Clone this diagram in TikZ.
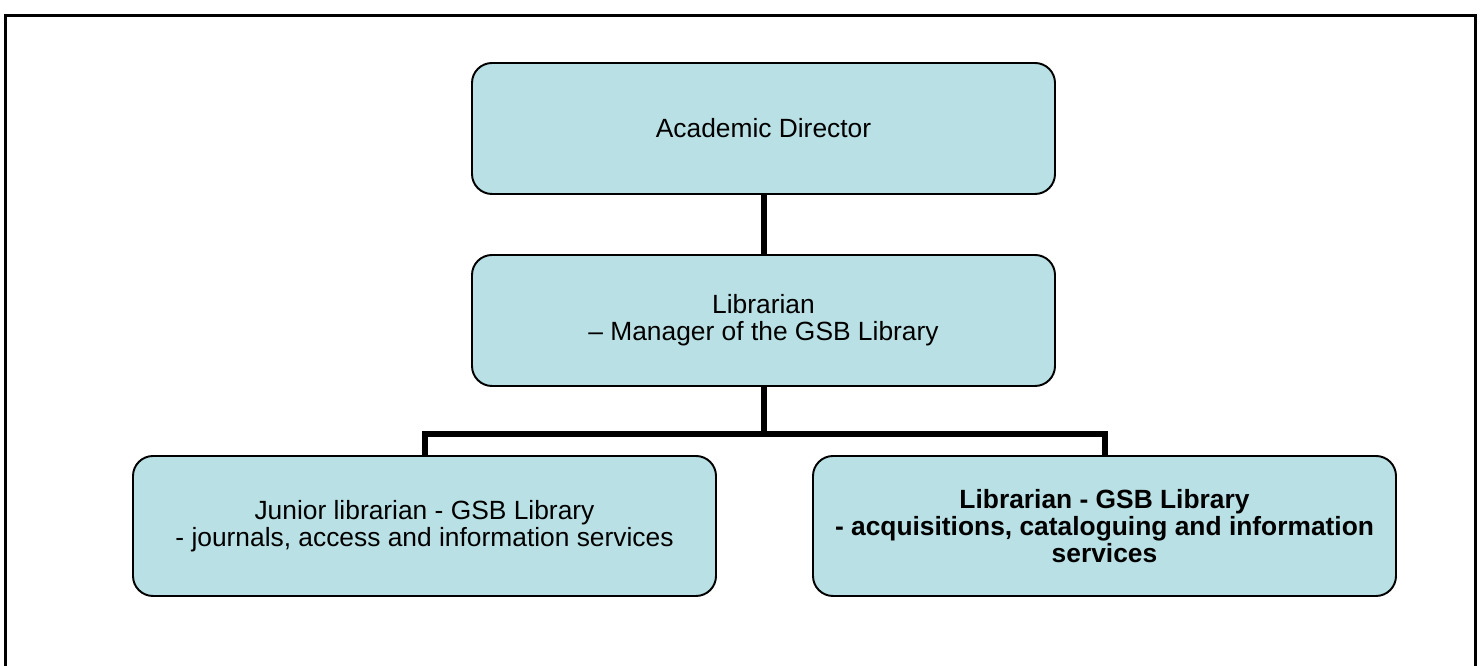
\documentclass[tikz,border=0pt]{standalone}
\usepackage{fontspec}
\setmainfont{Liberation Sans}
\definecolor{rolefill}{RGB}{185,224,228}
\begin{document}
\begin{tikzpicture}[
    every node/.append style={font=\fontsize{15}{15.5}\selectfont},
    role/.style={rectangle, rounded corners=0.4cm, draw=black, line width=1.1pt, fill=rolefill, minimum width=11.66cm, minimum height=#1, align=center, inner sep=0pt},
    link/.style={draw=black, line width=0.12cm}
]
    \useasboundingbox (0,0) rectangle (29.66,-13.32);

    % Marco
    \draw[line width=0.06cm] (0.12,-13.5) -- (0.12,-0.32) -- (29.5,-0.32) -- (29.5,-13.5);

    % Direccion
    \node[role=2.62cm] (director) at (15.27, -2.57) {Academic Director};
    \node[role=2.62cm] (manager) at (15.27, -6.41) {Librarian\\– Manager of the GSB Library};

    % Bibliotecarios
    \node[role=2.8cm] (junior) at (8.49, -10.52) {Junior librarian - GSB Library\\- journals, access and information services};
    \node[role=2.8cm, font=\fontsize{15}{15.5}\selectfont\bfseries] (senior) at (22.09, -10.52) {Librarian - GSB Library\\- acquisitions, cataloguing and information\\services};

    % Conexiones
    \coordinate (bar) at (15.27, -8.68);
    \draw[link] (director.south) -- (manager.north);
    \draw[link] (manager.south) -- (bar);
    \draw[link] (junior.north) |- (bar) -| (senior.north);

\end{tikzpicture}
\end{document}
